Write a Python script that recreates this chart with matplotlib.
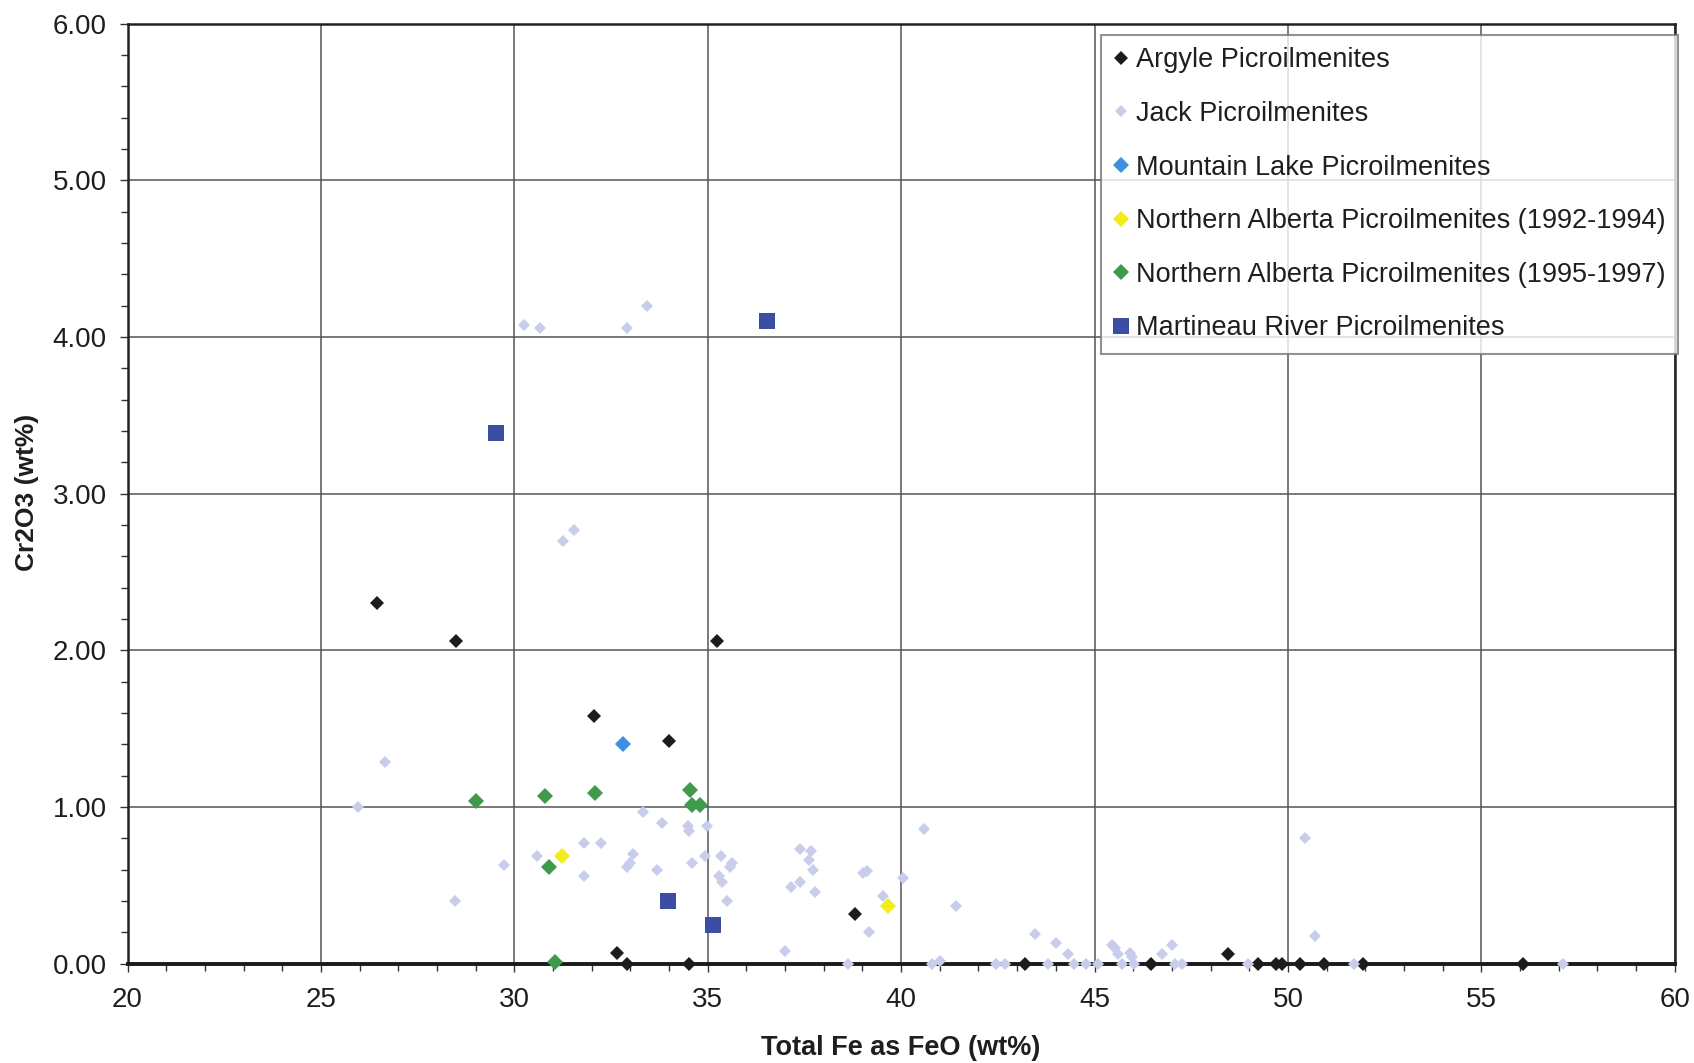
import matplotlib.pyplot as plt
from matplotlib.ticker import MultipleLocator, FormatStrFormatter

plt.rcParams['font.family'] = ['Liberation Sans', 'DejaVu Sans']

# Total Fe as FeO (wt%) vs Cr2O3 (wt%) for each picroilmenite population
argyle_fe = [26.45, 28.5, 35.25, 32.07, 33.99, 32.66, 32.91, 34.51, 38.82, 43.2,
             46.47, 48.46, 49.23, 49.7, 49.85, 50.32, 50.94, 51.93, 56.07]
argyle_cr = [2.30, 2.06, 2.06, 1.58, 1.42, 0.07, 0.00, 0.00, 0.32, 0.00,
             0.00, 0.06, 0.00, 0.00, 0.00, 0.00, 0.00, 0.00, 0.00]

jack_fe = [30.25, 30.67, 32.92, 33.44, 31.27, 31.53,
           26.66, 25.95, 28.47, 29.74, 30.59, 31.81, 32.23, 31.81, 33.08, 32.90,
           32.98, 33.33, 33.82, 33.70, 34.49, 34.52, 34.97, 34.59, 34.92, 35.34,
           35.64, 35.57, 35.29, 35.36, 35.49, 37.01, 37.38, 37.66, 37.61, 37.72,
           37.15, 37.38, 37.77, 38.62, 39.02, 39.12, 39.52, 40.06, 39.17, 40.59,
           41.43, 40.81, 41.01, 42.45, 42.68, 43.46, 44.01, 44.32, 43.80, 44.47,
           44.79, 45.10, 45.46, 45.53, 45.60, 45.91, 45.97, 45.72, 46.03, 46.75,
           47.01, 47.09, 47.25, 48.96, 50.44, 50.71, 51.72, 57.10]
jack_cr = [4.08, 4.06, 4.06, 4.20, 2.70, 2.77,
           1.29, 1.00, 0.40, 0.63, 0.685, 0.77, 0.77, 0.56, 0.70, 0.62,
           0.64, 0.97, 0.90, 0.60, 0.88, 0.85, 0.88, 0.64, 0.685, 0.69,
           0.64, 0.62, 0.56, 0.52, 0.40, 0.08, 0.73, 0.72, 0.66, 0.60,
           0.49, 0.52, 0.46, 0.00, 0.58, 0.59, 0.43, 0.55, 0.20, 0.86,
           0.37, 0.00, 0.02, 0.00, 0.00, 0.19, 0.13, 0.06, 0.00, 0.00,
           0.00, 0.00, 0.12, 0.10, 0.06, 0.07, 0.04, 0.00, 0.00, 0.06,
           0.12, 0.00, 0.00, 0.00, 0.80, 0.18, 0.00, 0.00]

mountain_fe = [32.81]
mountain_cr = [1.40]

na92_fe = [31.22, 39.66]
na92_cr = [0.685, 0.37]

na95_fe = [29.01, 30.79, 32.09, 34.53, 34.59, 34.79, 30.90, 31.04]
na95_cr = [1.04, 1.07, 1.09, 1.11, 1.01, 1.01, 0.62, 0.01]

martineau_fe = [29.52, 36.52, 33.97, 35.14]
martineau_cr = [3.385, 4.105, 0.40, 0.25]

series = [
    ('Argyle Picroilmenites', argyle_fe, argyle_cr, 'D', 6.8, '#1c1c1c'),
    ('Jack Picroilmenites', jack_fe, jack_cr, 'D', 6.3, '#c9cdec'),
    ('Mountain Lake Picroilmenites', mountain_fe, mountain_cr, 'D', 8.0, '#3d8fe0'),
    ('Northern Alberta Picroilmenites (1992-1994)', na92_fe, na92_cr, 'D', 8.0, '#f2ec1c'),
    ('Northern Alberta Picroilmenites (1995-1997)', na95_fe, na95_cr, 'D', 8.0, '#3f9a4c'),
    ('Martineau River Picroilmenites', martineau_fe, martineau_cr, 's', 11.5, '#3c4ea3'),
]

fig = plt.figure(figsize=(16.94, 10.63), dpi=100)
ax = fig.add_axes([0.0753, 0.0934, 0.9133, 0.8842])

for label, xs, ys, mk, ms, col in series:
    ax.plot(xs, ys, linestyle='none', marker=mk, markersize=ms,
            markerfacecolor=col, markeredgewidth=0, label=label,
            clip_on=False, zorder=3)

ax.set_xlim(20, 60)
ax.set_ylim(0, 6)
ax.xaxis.set_major_locator(MultipleLocator(5))
ax.xaxis.set_minor_locator(MultipleLocator(1))
ax.yaxis.set_major_locator(MultipleLocator(1))
ax.yaxis.set_minor_locator(MultipleLocator(0.2))
ax.yaxis.set_major_formatter(FormatStrFormatter('%.2f'))

ax.grid(True, which='major', color='#555555', linewidth=1.1)
ax.set_axisbelow(True)

ax.tick_params(which='both', direction='out', color='#333333', width=1.0,
               labelsize=20, labelcolor='#1e1e1e')
ax.tick_params(which='major', length=6)
ax.tick_params(which='minor', length=5)
ax.tick_params(axis='x', pad=11)
ax.tick_params(axis='y', pad=9)

for side in ['left', 'top', 'right']:
    ax.spines[side].set_linewidth(1.8)
    ax.spines[side].set_color('#222222')
ax.spines['bottom'].set_linewidth(2.8)
ax.spines['bottom'].set_color('#1a1a1a')

ax.set_xlabel('Total Fe as FeO (wt%)', fontsize=19.5, fontweight='bold',
              color='#1e1e1e', va='center')
ax.xaxis.set_label_coords(0.5, -0.0897)
ax.set_ylabel('Cr2O3 (wt%)', fontsize=19, fontweight='bold',
              color='#1e1e1e', va='center')
ax.yaxis.set_label_coords(-0.065, 0.502)

leg = ax.legend(loc='upper right', bbox_to_anchor=(1.002, 0.988),
                borderaxespad=0, fontsize=19.5, frameon=True, fancybox=False,
                handlelength=0.55, handletextpad=0.3, labelspacing=1.02,
                borderpad=0.45, edgecolor='#777777')
leg.get_frame().set_linewidth(1.5)
for t in leg.get_texts():
    t.set_color('#1e1e1e')

fig.savefig('out.png', dpi=100, facecolor='white')
